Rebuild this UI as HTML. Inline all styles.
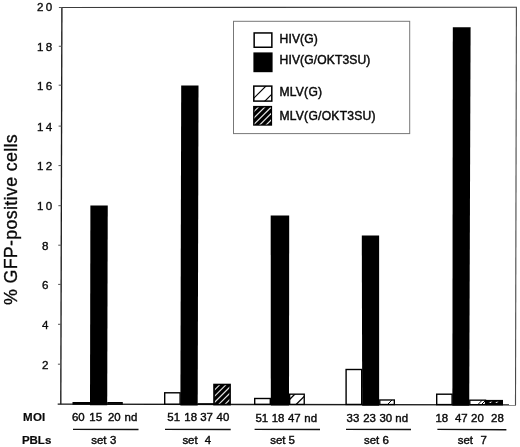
<!DOCTYPE html>
<html><head><meta charset="utf-8"><title>GFP-positive cells</title>
<style>
html,body{margin:0;padding:0;background:#fff;}
svg{display:block;}
text{font-family:"Liberation Sans",Arial,Helvetica,sans-serif;fill:#0a0a0a;stroke:#0a0a0a;stroke-width:0.3px;}
.t{font-size:11.6px;letter-spacing:2.3px;stroke-width:0.35px;}
.m{font-size:11.45px;stroke-width:0.4px;}
.b{font-size:11.5px;font-weight:bold;stroke-width:0.2px;}
.l{font-size:12.1px;letter-spacing:0.25px;stroke-width:0.45px;}
</style></head><body>
<svg width="520" height="447" viewBox="0 0 520 447">
<defs>
<pattern id="hd" width="4.4" height="4.4" patternUnits="userSpaceOnUse" patternTransform="rotate(-45)">
<rect width="4.4" height="4.4" fill="#000"/><rect y="1.6" width="4.4" height="1.1" fill="#f4f4f4"/>
</pattern>
</defs>
<rect width="520" height="447" fill="#fff"/>

<line x1="60.8" y1="404.3" x2="61.9" y2="7.5" stroke="#1c1c1c" stroke-width="1.35"/>
<line x1="61.3" y1="7.5" x2="516.9" y2="7.3" stroke="#3c3c3c" stroke-width="1.1"/>
<line x1="516.4" y1="7.3" x2="515.5" y2="404.9" stroke="#4a4a4a" stroke-width="1.1"/>
<line x1="57.7" y1="404.2" x2="516" y2="404.9" stroke="#1a1a1a" stroke-width="1.3"/>
<line x1="57.91" y1="364.20" x2="60.91" y2="364.20" stroke="#555" stroke-width="1"/>
<text class="t" x="42.1" y="368.80">2</text>
<line x1="58.02" y1="324.30" x2="61.02" y2="324.30" stroke="#555" stroke-width="1"/>
<text class="t" x="42.1" y="329.30">4</text>
<line x1="58.13" y1="284.40" x2="61.13" y2="284.40" stroke="#555" stroke-width="1"/>
<text class="t" x="42.1" y="288.70">6</text>
<line x1="58.24" y1="245.20" x2="61.24" y2="245.20" stroke="#555" stroke-width="1"/>
<text class="t" x="42.1" y="249.60">8</text>
<line x1="58.35" y1="205.70" x2="61.35" y2="205.70" stroke="#555" stroke-width="1"/>
<text class="t" x="36.9" y="209.80">10</text>
<line x1="58.46" y1="165.60" x2="61.46" y2="165.60" stroke="#555" stroke-width="1"/>
<text class="t" x="36.9" y="170.00">12</text>
<line x1="58.57" y1="126.10" x2="61.57" y2="126.10" stroke="#555" stroke-width="1"/>
<text class="t" x="36.9" y="130.50">14</text>
<line x1="58.68" y1="85.20" x2="61.68" y2="85.20" stroke="#555" stroke-width="1"/>
<text class="t" x="36.9" y="89.50">16</text>
<line x1="58.79" y1="46.25" x2="61.79" y2="46.25" stroke="#555" stroke-width="1"/>
<text class="t" x="36.9" y="50.70">18</text>
<line x1="58.90" y1="7.50" x2="61.90" y2="7.50" stroke="#555" stroke-width="1"/>
<text class="t" x="36.9" y="11.20">20</text>
<text transform="translate(17.15,305.0) rotate(-90) scale(0.96,1)" font-size="18.6px" style="stroke-width:0.32px;letter-spacing:0.33px">% GFP-positive cells</text>
<rect x="73.20" y="402.70" width="16.50" height="1.34" fill="#999" stroke="#000" stroke-width="1.4"/>
<rect x="164.70" y="392.80" width="15.40" height="11.37" fill="#fff" stroke="#000" stroke-width="1.4"/>
<rect x="254.70" y="398.50" width="15.60" height="5.81" fill="#fff" stroke="#000" stroke-width="1.4"/>
<rect x="346.10" y="369.50" width="15.60" height="34.94" fill="#fff" stroke="#000" stroke-width="1.4"/>
<rect x="436.70" y="394.20" width="15.40" height="10.38" fill="#fff" stroke="#000" stroke-width="1.4"/>
<clipPath id="c0"><rect x="107.88" y="402.68" width="14.25" height="1.44"/></clipPath>
<rect x="107.88" y="402.68" width="14.25" height="1.44" fill="#aaa" stroke="#000" stroke-width="1.35"/>
<clipPath id="c1"><rect x="289.68" y="394.18" width="14.55" height="10.21"/></clipPath>
<rect x="289.68" y="394.18" width="14.55" height="10.21" fill="#fff" stroke="#000" stroke-width="1.35"/>
<line x1="281.94" y1="407.06" x2="297.50" y2="391.50" stroke="#000" stroke-width="1.3" clip-path="url(#c1)"/>
<line x1="293.54" y1="407.06" x2="309.10" y2="391.50" stroke="#000" stroke-width="1.3" clip-path="url(#c1)"/>
<clipPath id="c2"><rect x="379.78" y="399.98" width="14.55" height="4.54"/></clipPath>
<rect x="379.78" y="399.98" width="14.55" height="4.54" fill="#fff" stroke="#000" stroke-width="1.35"/>
<line x1="384.81" y1="407.19" x2="394.70" y2="397.30" stroke="#000" stroke-width="1.0" clip-path="url(#c2)"/>
<clipPath id="c3"><rect x="469.78" y="400.18" width="15.75" height="4.48"/></clipPath>
<rect x="469.78" y="400.18" width="15.75" height="4.48" fill="#fff" stroke="#000" stroke-width="1.35"/>
<line x1="475.07" y1="407.33" x2="484.90" y2="397.50" stroke="#000" stroke-width="1.0" clip-path="url(#c3)"/>
<line x1="478.67" y1="407.33" x2="488.50" y2="397.50" stroke="#000" stroke-width="1.0" clip-path="url(#c3)"/>
<polygon points="90.00,405.25 90.40,205.60 107.75,205.60 107.20,405.27" fill="#000" />
<polygon points="180.40,405.38 181.20,85.40 198.50,85.40 197.70,405.41" fill="#000" />
<polygon points="270.80,405.52 270.70,215.40 289.20,215.40 289.00,405.55" fill="#000" />
<polygon points="362.20,405.66 361.80,235.40 379.10,235.40 379.10,405.68" fill="#000" />
<polygon points="452.40,405.79 452.80,27.20 470.60,27.20 469.20,405.82" fill="#000" />
<rect x="197.5" y="403.2" width="16.5" height="1.6" fill="#000"/>
<rect x="213.2" y="383.7" width="17.7" height="21.7" fill="#000"/>
<clipPath id="cd4"><rect x="214.9" y="385.3" width="14.4" height="18.4"/></clipPath>
<line x1="194.50" y1="410" x2="224.50" y2="380" stroke="#e4e4e4" stroke-width="1.1" clip-path="url(#cd4)"/>
<line x1="200.70" y1="410" x2="230.70" y2="380" stroke="#e4e4e4" stroke-width="1.1" clip-path="url(#cd4)"/>
<line x1="206.90" y1="410" x2="236.90" y2="380" stroke="#e4e4e4" stroke-width="1.1" clip-path="url(#cd4)"/>
<line x1="213.10" y1="410" x2="243.10" y2="380" stroke="#e4e4e4" stroke-width="1.1" clip-path="url(#cd4)"/>
<line x1="219.40" y1="410" x2="249.40" y2="380" stroke="#e4e4e4" stroke-width="1.1" clip-path="url(#cd4)"/>
<rect x="486.0" y="399.9" width="17.0" height="5.5" fill="#000"/>
<rect x="488.5" y="401.7" width="12" height="1.3" fill="url(#hd)"/>
<text class="m" x="72.00" y="421.3">60</text>
<text class="m" x="89.30" y="421.3">15</text>
<text class="m" x="108.00" y="421.3">20</text>
<text class="m" x="124.60" y="421.3">nd</text>
<text class="m" x="167.30" y="421.3">51</text>
<text class="m" x="184.30" y="421.3">18</text>
<text class="m" x="200.20" y="421.3">37</text>
<text class="m" x="216.60" y="421.3">40</text>
<text class="m" x="255.40" y="421.6">51</text>
<text class="m" x="271.70" y="421.6">18</text>
<text class="m" x="288.00" y="421.6">47</text>
<text class="m" x="304.30" y="421.6">nd</text>
<text class="m" x="346.60" y="421.8">33</text>
<text class="m" x="363.20" y="421.8">23</text>
<text class="m" x="379.40" y="421.8">30</text>
<text class="m" x="395.30" y="421.8">nd</text>
<text class="m" x="435.40" y="421.8">18</text>
<text class="m" x="454.90" y="421.8">47</text>
<text class="m" x="471.10" y="421.8">20</text>
<text class="m" x="491.10" y="421.8">28</text>
<line x1="73" y1="429.4" x2="138.5" y2="429.5" stroke="#111" stroke-width="1.4"/>
<line x1="165" y1="429.4" x2="230.7" y2="429.5" stroke="#111" stroke-width="1.4"/>
<line x1="254.6" y1="429.4" x2="320" y2="429.5" stroke="#111" stroke-width="1.4"/>
<line x1="346" y1="429.4" x2="411" y2="429.5" stroke="#111" stroke-width="1.4"/>
<line x1="437.4" y1="429.4" x2="506.4" y2="429.7" stroke="#111" stroke-width="1.4"/>
<text class="m" x="91.2" y="443.9">set</text><text class="m" x="109.9" y="443.9">3</text>
<text class="m" x="182.4" y="444.0">set</text><text class="m" x="204.8" y="444.0">4</text>
<text class="m" x="270.2" y="443.9">set 5</text>
<text class="m" x="364.0" y="444.1">set 6</text>
<text class="m" x="457.7" y="443.7">set</text><text class="m" x="480.6" y="443.7">7</text>
<text class="b" x="23.0" y="421.0" style="letter-spacing:0.3px">MOI</text>
<text class="b" x="21.9" y="444">PBLs</text>
<rect x="233.5" y="21.3" width="176.2" height="112.3" fill="#fff" stroke="#777" stroke-width="1"/>
<rect x="254.15" y="32.95" width="17.7" height="14.3" fill="#fff" stroke="#000" stroke-width="1.5"/>
<rect x="253.4" y="52.4" width="19.2" height="19.8" fill="#000"/>
<clipPath id="cl"><rect x="253.7" y="86" width="18.2" height="15.2"/></clipPath>
<rect x="253.8" y="86.1" width="18.0" height="15.0" fill="#fff" stroke="#000" stroke-width="1.5"/>
<line x1="248.00" y1="104" x2="268.00" y2="84" stroke="#000" stroke-width="1.2" clip-path="url(#cl)"/>
<line x1="262.00" y1="104" x2="282.00" y2="84" stroke="#000" stroke-width="1.2" clip-path="url(#cl)"/>
<rect x="253.1" y="105.9" width="19.0" height="19.8" fill="#000"/>
<clipPath id="cdl"><rect x="254.5" y="107.5" width="16.5" height="16.9"/></clipPath>
<line x1="235.50" y1="130" x2="265.50" y2="100" stroke="#e4e4e4" stroke-width="1.2" clip-path="url(#cdl)"/>
<line x1="241.90" y1="130" x2="271.90" y2="100" stroke="#e4e4e4" stroke-width="1.2" clip-path="url(#cdl)"/>
<line x1="248.30" y1="130" x2="278.30" y2="100" stroke="#e4e4e4" stroke-width="1.2" clip-path="url(#cdl)"/>
<line x1="254.70" y1="130" x2="284.70" y2="100" stroke="#e4e4e4" stroke-width="1.2" clip-path="url(#cdl)"/>
<line x1="261.10" y1="130" x2="291.10" y2="100" stroke="#e4e4e4" stroke-width="1.2" clip-path="url(#cdl)"/>
<text class="l" x="279.6" y="42.6" style="letter-spacing:0.1px">HIV(G)</text>
<text class="l" x="279.6" y="63.8" style="letter-spacing:0.12px">HIV(G/OKT3SU)</text>
<text class="l" x="279.4" y="96.3">MLV(G)</text>
<text class="l" x="279.4" y="119.8">MLV(G/OKT3SU)</text>
</svg></body></html>
